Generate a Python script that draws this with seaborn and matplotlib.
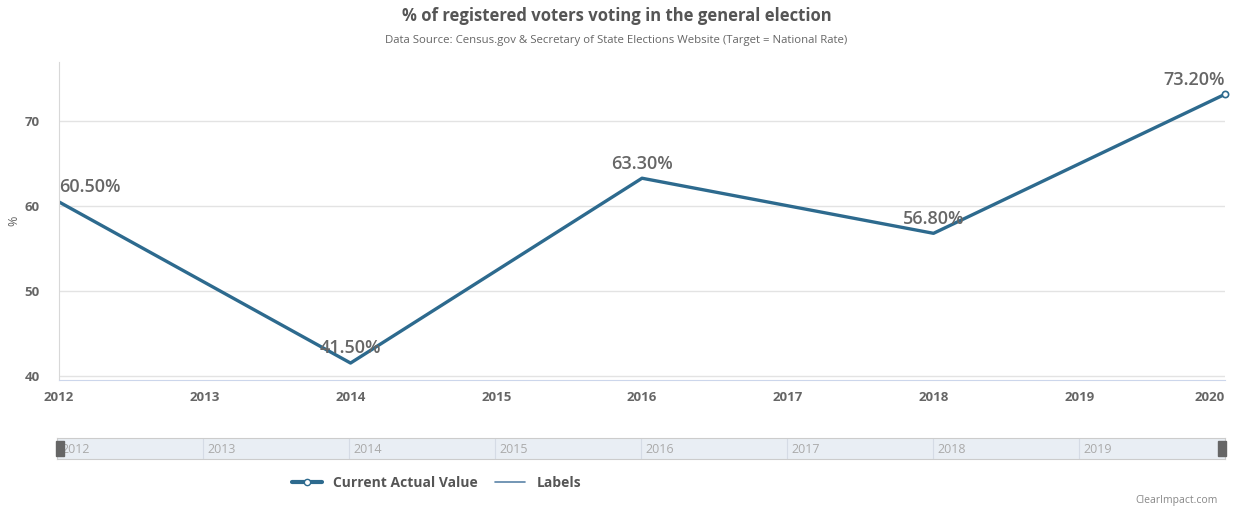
import matplotlib
matplotlib.use("Agg")
import matplotlib.pyplot as plt
from matplotlib.lines import Line2D
import seaborn as sns
import pandas as pd

# data
years = [2012, 2014, 2016, 2018, 2020]
values = [60.5, 41.5, 63.3, 56.8, 73.2]
labels = ["60.50%", "41.50%", "63.30%", "56.80%", "73.20%"]
tick_years = list(range(2012, 2021))
y_ticks = [40, 50, 60, 70]

title = "% of registered voters voting in the general election"
subtitle = "Data Source: Census.gov & Secretary of State Elections Website (Target = National Rate)"

sns.set_style("white")
plt.rcParams["font.family"] = ["Open Sans", "DejaVu Sans"]

line_color = "#2d6a8e"
text_gray = "#666666"

df = pd.DataFrame({"year": years, "value": values})

fig = plt.figure(figsize=(12.33, 5.12), dpi=100)
ax = fig.add_axes([0.0479, 0.2578, 0.9456, 0.621])

sns.lineplot(data=df, x="year", y="value", ax=ax, color=line_color, linewidth=2.4)
# last point drawn with a hollow marker as in the reference
ax.plot(years[-1], values[-1], marker="o", markersize=4.5, markerfacecolor="white",
        markeredgecolor=line_color, markeredgewidth=1.2, clip_on=False, zorder=5)

ax.set_xlim(2012, 2020)
ax.set_ylim(39.5, 77)
ax.set_xticks(tick_years)
ax.set_xticklabels([str(y) for y in tick_years], fontsize=9.5, fontweight="bold", color=text_gray)
ax.get_xticklabels()[-1].set_horizontalalignment("right")
ax.set_yticks(y_ticks)
ax.set_yticklabels([str(v) for v in y_ticks], fontsize=9.5, fontweight="bold", color=text_gray)
ax.tick_params(axis="x", length=0, pad=8)
ax.tick_params(axis="y", length=0, pad=14)
ax.grid(axis="y", color="#e3e3e3", linewidth=1)
ax.set_xlabel("")
ax.set_ylabel("")
for side in ["top", "right"]:
    ax.spines[side].set_visible(False)
ax.spines["left"].set_color("#d8d8d8")
ax.spines["bottom"].set_color("#ccd6eb")

for i, (x, y, lab) in enumerate(zip(years, values, labels)):
    ha = "center"
    if i == 0:
        ha = "left"
    elif i == len(years) - 1:
        ha = "right"
    ax.annotate(lab, (x, y), xytext=(0, 4), textcoords="offset points", ha=ha, va="bottom",
                fontsize=13, fontweight="semibold", color=text_gray, annotation_clip=False)

# navigator strip under the chart
nav = fig.add_axes([0.0462, 0.1035, 0.9473, 0.041])
nav.set_facecolor("#e9eef4")
nav.set_xlim(2012, 2020)
nav.set_ylim(0, 1)
nav.set_yticks([])
nav.set_xticks([])
for y in tick_years[:-1]:
    nav.axvline(y, color="#d5dbe5", linewidth=0.8)
    nav.text(y + 0.03, 0.45, str(y), fontsize=9, color="#aaaaaa", va="center", ha="left")
for side in nav.spines:
    nav.spines[side].set_color("#cccccc")
    nav.spines[side].set_linewidth(0.8)
for hx in [2012.02, 2019.98]:
    nav.add_patch(plt.Rectangle((hx - 0.028, 0.12), 0.056, 0.76, color="#666666", clip_on=False, zorder=5))

# legend
handles = [
    Line2D([0], [0], color=line_color, linewidth=3, marker="o", markersize=4.5,
           markerfacecolor="white", markeredgecolor=line_color),
    Line2D([0], [0], color="#5b84a8", linewidth=1.2),
]
fig.legend(handles, ["Current Actual Value", "Labels"], loc="center", bbox_to_anchor=(0.354, 0.056),
           ncol=2, frameon=False, handlelength=2.2, columnspacing=1.2,
           prop={"weight": "bold", "size": 10}, labelcolor="#555555")

fig.text(0.5, 0.968, title, ha="center", va="center", fontsize=12, fontweight="bold", color="#555555")
fig.text(0.5, 0.921, subtitle, ha="center", va="center", fontsize=8.2, color=text_gray)
fig.text(0.011, 0.568, "%", ha="center", va="center", rotation=90, fontsize=9, color=text_gray)
fig.text(0.988, 0.012, "ClearImpact.com", ha="right", va="bottom", fontsize=7.5, color="#888888")

fig.savefig("out.png", dpi=100)
plt.close(fig)
